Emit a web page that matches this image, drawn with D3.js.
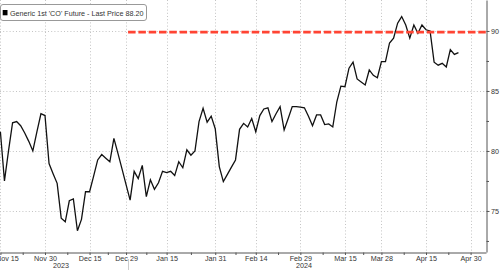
<!DOCTYPE html>
<html>
<head>
<meta charset="utf-8">
<script src="https://cdn.jsdelivr.net/npm/d3@7.9.0/dist/d3.min.js"></script>
<style>
  body { margin: 0; background: #fff; }
  svg { display: block; font-family: 'Liberation Sans', Arial, sans-serif; }
  .grid line { stroke: #c4c4c4; stroke-width: 1; stroke-dasharray: 1,2.2; }
  .axis path, .axis line { stroke: #555; }
  .axis text { fill: #333; font-size: 7.2px; font-family: 'Liberation Sans', Arial, sans-serif; }
</style>
</head>
<body>
<svg id="chart" width="500" height="270"></svg>
<script>
// series info
const seriesName = "Generic 1st 'CO' Future - Last Price";
const lastPrice = 88.20;

// trading calendar (ICE Brent)
const firstDay = '2023-11-15';
const lastDay = '2024-05-03';
const holidays = ['2023-12-25', '2024-01-01', '2024-03-29'];

// daily closes, one per trading day from Nov 15 2023 to Apr 25 2024
const prices = [
  81.6, 77.5, 80.0, 82.35, 82.45, 82.1, 81.5, 80.8, 80.0, 81.6,
  83.1, 82.95, 78.95, 78.1, 77.3, 74.4, 74.1, 75.85, 76.0, 73.35,
  74.3, 76.6, 76.6, 77.9, 79.25, 79.7, 79.4, 79.1, 81.05, 79.8,
  78.5, 77.2, 75.9, 78.3, 77.7, 78.8, 76.2, 77.6, 76.8, 77.35,
  78.3, 78.2, 78.3, 77.95, 79.1, 78.6, 80.1, 79.65, 80.0, 82.45,
  83.55, 82.4, 82.9, 81.85, 78.7, 77.45, 78.05, 78.65, 79.25, 81.8,
  82.3, 82.0, 82.7, 81.6, 82.95, 83.5, 83.6, 82.45, 83.1, 83.7,
  81.75, 82.7, 83.7, 83.7, 83.65, 83.6, 82.9, 82.1, 83.0, 83.0,
  82.2, 82.25, 82.0, 84.1, 85.4, 85.35, 86.9, 87.4, 86.0, 85.75,
  85.5, 86.75, 86.3, 86.1, 87.45, 87.45, 89.0, 89.4, 90.65, 91.2,
  90.5, 89.4, 90.5, 89.8, 90.5, 90.1, 90.0, 87.4, 87.15, 87.3,
  87.0, 88.45, 88.05, 88.2
];

// x axis
const tickDates = ['2023-11-15', '2023-11-30', '2023-12-15', '2023-12-29', '2024-01-15', '2024-01-31',
  '2024-02-14', '2024-02-29', '2024-03-15', '2024-03-28', '2024-04-15', '2024-04-30'];
const tickLabels = ['Nov 15', 'Nov 30', 'Dec 15', 'Dec 29', 'Jan 15', 'Jan 31',
  'Feb 14', 'Feb 29', 'Mar 15', 'Mar 28', 'Apr 15', 'Apr 30'];
const years = ['2023', '2024'];
const yearBreak = '2024-01-01';

// y axis
const yTicks = [75, 80, 85, 90];
const yMinorTicks = [72.5, 77.5, 82.5, 87.5];

// dashed reference level
const refLevel = 89.9;
const refFrom = '2024-01-01';

const W = 500, H = 270;
const plotRight = 486, plotBottom = 252;

const parse = d3.timeParse('%Y-%m-%d');
const fmt = d3.timeFormat('%Y-%m-%d');
const days = d3.timeDay.range(parse(firstDay), d3.timeDay.offset(parse(lastDay), 1))
  .filter(d => d.getDay() % 6 !== 0 && !holidays.includes(fmt(d)));
const dayIndex = new Map(days.map((d, i) => [fmt(d), i]));

// position of a date on the trading-day axis (non trading days sit half way)
function pos(s) {
  if (dayIndex.has(s)) return dayIndex.get(s);
  const t = parse(s);
  const i = d3.bisector(d => d).left(days, t);
  return i - 0.5;
}

const x = d3.scaleLinear().domain([-0.1, 119.8]).range([0, plotRight]);
const y = d3.scaleLinear().domain([71.58, 92.58]).range([plotBottom, 0]);

const svg = d3.select('#chart');

// gridlines
const grid = svg.append('g').attr('class', 'grid');
grid.selectAll('.h').data(yTicks).join('line')
  .attr('x1', 0).attr('x2', plotRight)
  .attr('y1', d => Math.round(y(d)) + 0.5).attr('y2', d => Math.round(y(d)) + 0.5);
const tickIdx = tickDates.map(pos);
grid.selectAll('.v').data(tickIdx).join('line')
  .attr('x1', d => Math.round(x(d)) + 0.5).attr('x2', d => Math.round(x(d)) + 0.5)
  .attr('y1', 0).attr('y2', plotBottom);

// price line
const line = d3.line()
  .x((d, i) => x(i))
  .y(d => y(d));
svg.append('path')
  .datum(prices)
  .attr('d', line)
  .attr('fill', 'none')
  .attr('stroke', '#111')
  .attr('stroke-width', 1.3);

// reference level
svg.append('line')
  .attr('x1', x(pos(refFrom))).attr('x2', plotRight)
  .attr('y1', y(refLevel)).attr('y2', y(refLevel))
  .attr('stroke', '#ff4433')
  .attr('stroke-width', 2.6)
  .attr('stroke-dasharray', '7.5,2.8');

// right axis
const yAxis = svg.append('g').attr('class', 'axis')
  .attr('transform', `translate(${plotRight + 0.5},0)`)
  .call(d3.axisRight(y).tickValues(yTicks).tickSize(3).tickSizeOuter(0).tickPadding(1.5));
yAxis.selectAll('text').attr('dy', '0.34em');
svg.append('g').attr('class', 'axis')
  .attr('transform', `translate(${plotRight + 0.5},0)`)
  .call(d3.axisRight(y).tickValues(yMinorTicks).tickSize(2.5).tickSizeOuter(0).tickFormat(''))
  .select('.domain').remove();

// bottom axis
const xAxis = svg.append('g').attr('class', 'axis')
  .attr('transform', `translate(0,${plotBottom + 0.5})`)
  .call(d3.axisBottom(x).tickValues(tickIdx).tickFormat((d, i) => tickLabels[i])
    .tickSize(2.5).tickSizeOuter(0).tickPadding(0.5));
xAxis.selectAll('.tick text').filter((d, i) => i === 0).attr('x', 6.5);

const minorIdx = d3.pairs(tickIdx).map(([a, b]) => (a + b) / 2);
svg.append('g').attr('class', 'axis')
  .attr('transform', `translate(0,${plotBottom + 0.5})`)
  .call(d3.axisBottom(x).tickValues(minorIdx).tickSize(2.5).tickSizeOuter(0).tickFormat(''))
  .select('.domain').remove();

// year separator and labels
const xBreak = x(pos(yearBreak));
svg.append('line')
  .attr('x1', Math.round(xBreak) + 0.5).attr('x2', Math.round(xBreak) + 0.5)
  .attr('y1', 259).attr('y2', H)
  .attr('stroke', '#ccc');
const yearSpans = [[0, xBreak], [xBreak, plotRight]];
svg.selectAll('.year').data(years).join('text')
  .attr('x', (d, i) => (yearSpans[i][0] + yearSpans[i][1]) / 2 - 3)
  .attr('y', 268.3)
  .attr('text-anchor', 'middle')
  .attr('font-size', 7.2)
  .attr('fill', '#333')
  .text(d => d);

// legend
const legend = svg.append('g');
legend.append('rect')
  .attr('x', 0.5).attr('y', 4.5).attr('width', 146).attr('height', 16)
  .attr('rx', 2.5)
  .attr('fill', '#fff').attr('stroke', '#999');
legend.append('rect')
  .attr('x', 2.7).attr('y', 10).attr('width', 4.8).attr('height', 5.3)
  .attr('fill', '#000');
legend.append('text')
  .attr('x', 10).attr('y', 15.5)
  .attr('font-size', 7.2)
  .attr('fill', '#333')
  .text(`${seriesName} ${lastPrice.toFixed(2)}`);
</script>
</body>
</html>
